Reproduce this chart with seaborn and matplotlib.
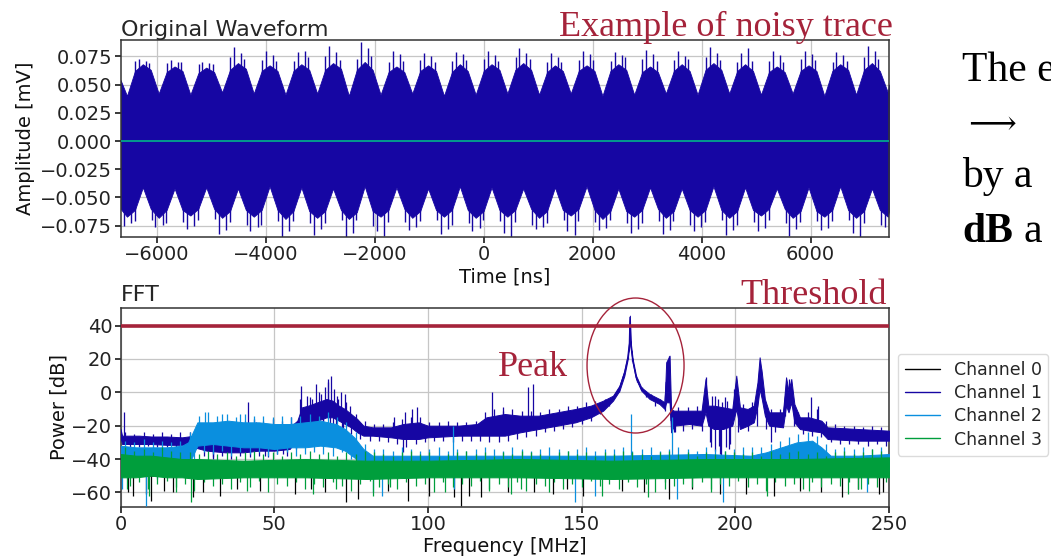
import numpy as np
import pandas as pd
import matplotlib
matplotlib.use("Agg")
import matplotlib.pyplot as plt
import seaborn as sns
from matplotlib.patches import Ellipse
from matplotlib.lines import Line2D

# ------------------------------------------------------------------ data
channels = ["Channel 0", "Channel 1", "Channel 2", "Channel 3"]
ch_colors = ["#000000", "#1606a3", "#0a8fdf", "#009e3c"]

# --- waveform (Channel 1) envelope (time in ns, amplitude in mV)
wave_t = [-6660,
          -6542, -6396, -6251, -6106, -5960, -5814, -5669, -5524,
          -5379, -5233, -5088, -4943, -4797, -4651, -4506, -4361,
          -4216, -4070, -3925, -3780, -3634, -3488, -3343, -3198,
          -3052, -2906, -2761, -2616, -2471, -2325, -2180, -2035,
          -1889, -1743, -1598, -1453, -1308, -1162, -1017, -872,
          -726, -580, -435, -290, -144, 2, 147, 292,
          437, 583, 728, 873, 1019, 1165, 1310, 1455,
          1600, 1746, 1891, 2036, 2182, 2328, 2473, 2618,
          2764, 2910, 3055, 3200, 3345, 3491, 3636, 3781,
          3927, 4073, 4218, 4363, 4508, 4654, 4799, 4944,
          5090, 5236, 5381, 5526, 5672, 5818, 5963, 6108,
          6253, 6399, 6544, 6689, 6835, 6981, 7126, 7271,
          7417, 7440]
wave_top = [0.054,
            0.040, 0.062, 0.068, 0.063, 0.042, 0.061, 0.066, 0.062,
            0.041, 0.060, 0.065, 0.061, 0.043, 0.063, 0.069, 0.064,
            0.042, 0.062, 0.067, 0.062, 0.041, 0.062, 0.068, 0.063,
            0.042, 0.063, 0.069, 0.064, 0.040, 0.063, 0.070, 0.063,
            0.041, 0.061, 0.066, 0.061, 0.042, 0.062, 0.067, 0.062,
            0.040, 0.061, 0.068, 0.062, 0.041, 0.062, 0.068, 0.063,
            0.042, 0.063, 0.069, 0.063, 0.041, 0.061, 0.067, 0.062,
            0.042, 0.062, 0.067, 0.062, 0.040, 0.062, 0.068, 0.063,
            0.041, 0.061, 0.066, 0.061, 0.042, 0.062, 0.068, 0.062,
            0.041, 0.063, 0.069, 0.063, 0.042, 0.062, 0.068, 0.062,
            0.041, 0.061, 0.066, 0.061, 0.042, 0.062, 0.067, 0.062,
            0.040, 0.062, 0.068, 0.063, 0.041, 0.063, 0.069, 0.062,
            0.043, 0.050]
wave_bot = [-0.060,
            -0.067, -0.061, -0.041, -0.060, -0.068, -0.061, -0.042, -0.061,
            -0.066, -0.060, -0.041, -0.060, -0.068, -0.062, -0.042, -0.061,
            -0.067, -0.061, -0.040, -0.061, -0.069, -0.062, -0.041, -0.062,
            -0.068, -0.062, -0.042, -0.061, -0.069, -0.063, -0.040, -0.062,
            -0.067, -0.061, -0.041, -0.060, -0.068, -0.062, -0.042, -0.061,
            -0.067, -0.061, -0.040, -0.061, -0.068, -0.062, -0.041, -0.061,
            -0.067, -0.061, -0.042, -0.060, -0.068, -0.062, -0.041, -0.061,
            -0.066, -0.060, -0.040, -0.061, -0.069, -0.062, -0.042, -0.062,
            -0.067, -0.061, -0.041, -0.060, -0.068, -0.062, -0.042, -0.061,
            -0.067, -0.061, -0.040, -0.061, -0.068, -0.062, -0.041, -0.061,
            -0.066, -0.060, -0.042, -0.060, -0.068, -0.062, -0.041, -0.062,
            -0.067, -0.061, -0.040, -0.061, -0.068, -0.062, -0.042, -0.061,
            -0.067, -0.062]
# spikes on the waveform edges
wave_top_spk_t = [-6321, -6191, -5739, -5609, -5158, -5028, -4576, -4446,
                  -3995, -3865, -3413, -3283, -2831, -2701, -2250, -2120,
                  -1668, -1538, -1087, -957, -505, -375, 77, 207,
                  658, 788, 1240, 1370, 1821, 1951, 2403, 2533,
                  2985, 3115, 3566, 3696, 4148, 4278, 4729, 4859,
                  5311, 5441, 5893, 6023, 6474, 6604, 7056, 7186,
                  -6391, -5809, -5228, -4646, -4065, -3483, -2901, -2320,
                  -1738, -1157, -575, 7, 588, 1170, 1751, 2333,
                  2915, 3496, 4078, 4659, 5241, 5823, 6404, 6986,
                  -6131, -5549, -4968, -4386, -3805, -3223, -2641, -2060,
                  -1478, -897, -315, 267, 848, 1430, 2011, 2593,
                  3175, 3756, 4338, 4919, 5501, 6083, 6664, 7246]
wave_top_spk_v = [0.073, 0.071, 0.072, 0.070, 0.070, 0.069, 0.083, 0.078,
                  0.080, 0.076, 0.079, 0.080, 0.084, 0.079, 0.088, 0.082,
                  0.080, 0.077, 0.078, 0.075, 0.079, 0.077, 0.080, 0.076,
                  0.082, 0.078, 0.078, 0.074, 0.080, 0.077, 0.079, 0.076,
                  0.081, 0.077, 0.080, 0.075, 0.083, 0.078, 0.078, 0.082,
                  0.080, 0.076, 0.080, 0.077, 0.079, 0.076, 0.084, 0.080,
                  0.071, 0.069, 0.068, 0.074, 0.072, 0.071, 0.075, 0.073,
                  0.070, 0.072, 0.071, 0.073, 0.074, 0.070, 0.072, 0.071,
                  0.073, 0.072, 0.074, 0.070, 0.071, 0.073, 0.070, 0.074,
                  0.069, 0.070, 0.068, 0.073, 0.071, 0.074, 0.072, 0.075,
                  0.071, 0.070, 0.072, 0.071, 0.073, 0.070, 0.072, 0.074,
                  0.071, 0.073, 0.072, 0.071, 0.070, 0.072, 0.071, 0.073]
wave_bot_spk_t = [-6602, -6472, -6020, -5890, -5439, -5309, -4857, -4727,
                  -4276, -4146, -3694, -3564, -3112, -2982, -2531, -2401,
                  -1949, -1819, -1368, -1238, -786, -656, -204, -74,
                  377, 507, 959, 1089, 1540, 1670, 2122, 2252,
                  2704, 2834, 3285, 3415, 3867, 3997, 4448, 4578,
                  5030, 5160, 5612, 5742, 6193, 6323, 6775, 6905, 7357,
                  -6090, -5509, -4927, -4346, -3764, -3182, -2601, -2019,
                  -1438, -856, -274, 307, 889, 1470, 2052, 2634,
                  3215, 3797, 4378, 4960, 5542, 6123, 6705, 7287,
                  -6402, -5820, -5239, -4657, -4076, -3494, -2912, -2331,
                  -1749, -1168, -586, -4, 577, 1159, 1740, 2322,
                  2904, 3485, 4067, 4648, 5230, 5812, 6393, 6975]
wave_bot_spk_v = [-0.075, -0.073, -0.076, -0.074, -0.078, -0.075, -0.082, -0.079,
                  -0.080, -0.076, -0.086, -0.080, -0.083, -0.078, -0.085, -0.081,
                  -0.080, -0.084, -0.079, -0.076, -0.082, -0.078, -0.080, -0.077,
                  -0.081, -0.085, -0.078, -0.076, -0.080, -0.083, -0.079, -0.077,
                  -0.081, -0.078, -0.082, -0.079, -0.080, -0.076, -0.083, -0.079,
                  -0.080, -0.077, -0.084, -0.078, -0.079, -0.077, -0.081, -0.085, -0.076,
                  -0.070, -0.072, -0.069, -0.074, -0.071, -0.073, -0.070, -0.075,
                  -0.072, -0.070, -0.073, -0.071, -0.074, -0.070, -0.072, -0.073,
                  -0.071, -0.074, -0.070, -0.072, -0.073, -0.071, -0.070, -0.074,
                  -0.071, -0.073, -0.070, -0.072, -0.074, -0.071, -0.073, -0.070,
                  -0.072, -0.071, -0.074, -0.070, -0.072, -0.073, -0.071, -0.070,
                  -0.073, -0.071, -0.072, -0.074, -0.070, -0.072, -0.071, -0.073]
# other channels are almost flat in time domain
wave_other_amp = [0.0008, 0.0012, 0.0008]   # channel 0, 2, 3

# --- FFT (frequency MHz, power dB): noise-band limits per channel
ch0_f = [0, 10, 20, 30, 50, 80, 120, 160, 200, 250]
ch0_lo = [-50, -50, -50, -50, -50, -50, -50, -50, -50, -50]
ch0_hi = [-41, -41, -41, -42, -41, -42, -41, -42, -41, -41]
ch0_spk_f = [2.5, 4.1, 8.4, 9.9, 14.0, 17.2, 23.5, 26.8, 32.2, 38.0, 45.3, 56.6,
             62.0, 66.4, 73.4, 77.2, 87.0, 93.5, 100.5, 108.6, 110.8, 113.5, 117.3,
             126.0, 134.4, 140.6, 145.2, 150.3, 163.0, 170.2, 178.3, 186.0, 195.0,
             203.4, 212.6, 221.0, 228.0, 234.8, 240.0, 246.8, 248.0]
ch0_spk_v = [-60, -62, -61, -65, -59, -60, -63, -60, -62, -58, -59, -61,
             -58, -60, -66, -64, -59, -65, -62, -63, -68, -62, -63,
             -60, -60, -61, -58, -62, -59, -60, -64, -58, -61,
             -61, -62, -59, -60, -63, -58, -61, -60]

ch1_f = [0, 0.5, 2, 6, 10, 15, 20, 24, 28, 34, 40, 45, 50, 55, 57.5, 59, 61, 64,
         67, 69, 71, 73, 75, 77, 79, 82, 88, 92, 97, 100, 110, 116, 119, 125, 130,
         136, 142, 148, 153, 157, 160.2, 162.3, 163.9, 165.0, 165.5, 165.7, 165.9,
         166.6, 167.7, 169.4, 172.1, 175.3, 177.0, 177.5, 178.6, 179.1, 180, 185,
         189, 190.3, 191.2, 193, 196, 199, 200.3, 201.5, 204, 206, 207.2, 207.9,
         208.6, 209.6, 211, 215.5, 216.5, 217.3, 218.2, 219.2, 221, 224, 228, 230,
         240, 250]
ch1_lo = [-27, -31, -31, -31, -31, -31.5, -31.5, -33, -35, -36, -36, -35, -35, -34,
          -28, -20, -18, -17, -15, -15, -17, -19, -21, -24, -26, -26, -27, -28, -28,
          -27, -26, -26, -26, -26, -24, -22, -20, -18, -15, -11, -5, 1, 10, 20, 28,
          44, 28, 18, 8, 1, -4, -7, -10, -6, -6, -24, -20, -19, -20, -12, -20, -22,
          -22, -20, -10, -22, -20, -18, -8, 2, -4, -14, -20, -21, -8, -12, -6, -18,
          -22, -23, -24, -28, -29, -29]
ch1_hi = [-22, -26, -26, -26, -26.5, -26.5, -27, -26, -24, -22, -21, -20, -21, -21,
          -17, -9, -8, -6, -4, -5, -8, -10, -13, -16, -20, -21, -21, -19, -18, -20,
          -20, -19, -15, -13, -14, -14, -12, -10, -8, -5, -2, 4, 13, 22, 31, 46, 31,
          20, 10, 3, -1, -4, -6, 18, 22, -10, -11, -11, -11, 8, -8, -8, -9, -10, 10,
          -9, -10, -8, 6, 21, 12, -4, -12, -12, 9, 1, 8, -7, -15, -15, -17, -21,
          -22, -23]
ch1_spk_f = [1.0, 41.5, 44.0, 58.8, 60.5, 62.3, 63.7, 65.2, 66.6, 67.6, 68.6, 69.6,
             70.6, 71.6, 73.1, 74.5, 88.8, 92.6, 94.8, 96.5, 120.7, 124.5, 132.6,
             134.1, 192.5, 194.2, 195.8, 197.4, 224.7, 226.9]
ch1_spk_v = [-12, -6, -18, 4, -2, -4, 5, -1, 3, 8, 10, 2, -4, 0, -1, -8, -15, -12,
             -10, -9, 0, -9, 3, 5, -2, -4, -6, -5, -3, -8]
ch1_dip_f = [30.0, 47.0, 53.0, 59.7, 62.8, 65.8, 68.1, 70.1, 72.4, 92.0, 180.5,
             191.8, 193.5, 194.6, 195.2, 197.0, 198.3, 211.5]
ch1_dip_v = [-40, -38, -37, -26, -24, -22, -21, -23, -24, -36, -24,
             -30, -35, -32, -38, -33, -31, -30]

ch2_f = [0, 5, 10, 15, 20, 22, 23.5, 25, 30, 35, 40, 45, 50, 55, 60, 65, 70, 73,
         76, 79, 82, 100, 130, 160, 190, 205, 210, 215, 220, 225, 228, 231, 240, 250]
ch2_lo = [-46, -47, -47, -47, -46, -44, -38, -32, -31, -32, -33, -33, -34, -33, -33,
          -32, -33, -35, -39, -44, -47, -47, -47, -47, -47, -47, -46, -44, -41, -41,
          -44, -47, -47, -47]
ch2_hi = [-32, -33, -33, -33, -32, -30, -24, -18, -18, -17, -18, -18, -19, -19, -18,
          -17, -19, -22, -27, -34, -38, -38, -38, -38, -37, -38, -36, -33, -30, -29,
          -33, -38, -38, -37]
ch2_spk_f = [27.5, 33.0, 39.0, 108.0, 166.0, 179.5]
ch2_spk_v = [-12, -13, -13, -20, -13, -15]
ch2_dip_f = [0.4, 8.4, 82.0, 85.0, 108.5, 148.0, 154.3, 181.0, 196.0, 242.8]
ch2_dip_v = [-58, -68, -60, -62, -58, -66, -62, -64, -66, -60]

ch3_f = [0, 5, 10, 15, 20, 25, 40, 60, 80, 100, 130, 160, 190, 220, 250]
ch3_lo = [-51, -51, -50, -51, -51, -52, -51, -51, -52, -51, -51, -52, -51, -51, -51]
ch3_hi = [-37, -38, -38, -39, -40, -40, -41, -40, -41, -41, -40, -41, -40, -40, -39]
ch3_dip_f = [2.2, 9.4, 18.1, 23.0, 41.0, 62.6, 70.2, 82.1, 87.5, 105.4, 120.0,
             127.0, 130.4, 139.5, 156.6, 171.5, 177.2, 192.0, 210.3, 224.0, 236.5, 241.0]
ch3_dip_v = [-58, -62, -60, -66, -59, -61, -58, -62, -57, -60, -59, -61, -58, -60,
             -62, -63, -58, -60, -62, -59, -61, -58]

# fine noise: upper excursions at grid_up, lower at grid_dn
grid_up = [1.5, 4.5, 7.5, 10.5, 13.5, 16.5, 19.5, 22.5, 25.5, 28.5,
           31.5, 34.5, 37.5, 40.5, 43.5, 46.5, 49.5, 52.5, 55.5, 58.5,
           61.5, 64.5, 67.5, 70.5, 73.5, 76.5, 79.5, 82.5, 85.5, 88.5,
           91.5, 94.5, 97.5, 100.5, 103.5, 106.5, 109.5, 112.5, 115.5, 118.5,
           121.5, 124.5, 127.5, 130.5, 133.5, 136.5, 139.5, 142.5, 145.5, 148.5,
           151.5, 154.5, 157.5, 160.5, 163.5, 166.5, 169.5, 172.5, 175.5, 178.5,
           181.5, 184.5, 187.5, 190.5, 193.5, 196.5, 199.5, 202.5, 205.5, 208.5,
           211.5, 214.5, 217.5, 220.5, 223.5, 226.5, 229.5, 232.5, 235.5, 238.5,
           241.5, 244.5, 247.5]
grid_dn = [3, 6, 9, 12, 15, 18, 21, 24, 27, 30,
           33, 36, 39, 42, 45, 48, 51, 54, 57, 60,
           63, 66, 69, 72, 75, 78, 81, 84, 87, 90,
           93, 96, 99, 102, 105, 108, 111, 114, 117, 120,
           123, 126, 129, 132, 135, 138, 141, 144, 147, 150,
           153, 156, 159, 162, 165, 168, 171, 174, 177, 180,
           183, 186, 189, 192, 195, 198, 201, 204, 207, 210,
           213, 216, 219, 222, 225, 228, 231, 234, 237, 240,
           243, 246, 249]
ch1_up = [-24, -25, -24, -25, -24, -25, -24, -24, -22, -20,
          -19, -18, -19, -17, -16, -17, -16, -17, -15, -4,
          -3, 0, 6, -2, -6, -13, -17, -19, -19, -18,
          -16, -15, -15, -18, -18, -17, -18, -18, -17, -12,
          -10, -11, -10, -11, -11, -12, -10, -10, -8, -8,
          -6, -5, -4, -2, 10, 19, 3, -1, -4, 22,
          -9, -9, -8, 9, -2, -3, 2, -7, -6, 14,
          -10, -10, 8, -12, -12, -10, -17, -19, -20, -20,
          -21, -20, -21]
ch1_dn = [-33, -33, -32, -33, -33, -33, -33, -36, -38, -39,
          -38, -40, -38, -39, -38, -39, -37, -38, -34, -25,
          -23, -22, -21, -23, -25, -28, -29, -29, -30, -31,
          -33, -31, -30, -29, -29, -30, -29, -29, -29, -30,
          -30, -29, -28, -27, -26, -24, -23, -22, -21, -19,
          -17, -13, -8, 0, 20, 6, -3, -8, -11, -24,
          -23, -22, -23, -33, -37, -34, -24, -23, -20, -22,
          -24, -14, -20, -25, -26, -27, -30, -31, -31, -31,
          -32, -31, -32]
ch2_up = [-29, -30, -28, -30, -29, -30, -29, -24, -14, -12,
          -14, -13, -15, -13, -14, -14, -15, -14, -15, -14,
          -13, -14, -12, -15, -18, -24, -31, -34, -34, -35,
          -33, -34, -35, -34, -33, -35, -34, -35, -34, -33,
          -34, -35, -33, -34, -35, -34, -33, -34, -35, -34,
          -33, -35, -34, -34, -33, -35, -34, -33, -35, -34,
          -33, -34, -35, -33, -34, -35, -34, -33, -33, -33,
          -31, -29, -27, -25, -24, -26, -31, -34, -33, -34,
          -33, -34, -33]
ch2_dn = [-49, -51, -50, -52, -49, -50, -51, -40, -36, -37,
          -35, -38, -36, -37, -36, -38, -37, -36, -38, -37,
          -36, -37, -38, -36, -40, -45]
ch3_up = [-33, -35, -34, -36, -33, -35, -36,
          -36, -37, -35, -37, -36, -38, -36, -35, -37, -36,
          -38, -36, -37, -35, -37, -36, -38, -36, -37, -35,
          -36, -37, -38, -36, -35, -37, -36, -38, -37, -36,
          -35, -37, -36, -38, -36, -37, -35, -36, -37, -38,
          -36, -35, -37, -36, -38, -36, -37, -35, -36, -37,
          -38, -36, -35, -37, -36, -38, -36, -37, -35, -36,
          -37, -36, -38, -35, -37, -36, -35, -37, -36, -38,
          -36, -35, -37, -36, -34, -35]
ch3_dn = [-56, -54, -58, -55, -53, -57, -55, -59, -54, -56,
          -55, -58, -54, -57, -53, -60, -55, -56, -54, -58,
          -55, -57, -54, -56, -59, -55, -53, -57, -55, -58,
          -54, -56, -55, -60, -54, -57, -55, -56, -53, -58,
          -55, -57, -54, -59, -55, -56, -54, -58, -55, -57,
          -53, -56, -55, -58, -54, -57, -55, -60, -54, -56,
          -55, -57, -54, -58, -55, -56, -53, -57, -55, -59,
          -54, -56, -55, -58, -54, -57, -55, -56, -54, -58,
          -55, -57, -54]

thr_f = [0, 250]
thr_v = [40, 40]

time_ticks = [-6000, -4000, -2000, 0, 2000, 4000, 6000]
amp_ticks = [-0.075, -0.050, -0.025, 0.000, 0.025, 0.050, 0.075]
freq_ticks = [0, 50, 100, 150, 200, 250]
pow_ticks = [-60, -40, -20, 0, 20, 40]

# ------------------------------------------------------------------ style
sns.set_theme(style="whitegrid", rc={
    "axes.edgecolor": "#333333", "axes.linewidth": 1.1,
    "grid.color": "#c6c6c6", "grid.linewidth": 0.9,
    "xtick.bottom": True, "ytick.left": True,
    "xtick.major.size": 4, "ytick.major.size": 4,
    "xtick.color": "#222222", "ytick.color": "#222222",
    "axes.labelcolor": "#111111",
})
plt.rcParams["font.family"] = ["DejaVu Sans"]

RED = "#a5233a"
SERIF = ["Liberation Serif", "DejaVu Serif"]

fig = plt.figure(figsize=(10.51, 5.56), dpi=100)
ax1 = fig.add_axes([0.1147, 0.5737, 0.7312, 0.3543])
ax2 = fig.add_axes([0.1147, 0.0887, 0.7312, 0.3568])

# ------------------------------------------------------------------ waveform
ax1.fill_between(wave_t, wave_bot, wave_top, color=ch_colors[1], lw=0.6, zorder=2)
ax1.vlines(wave_top_spk_t, 0, wave_top_spk_v, color=ch_colors[1], lw=1.0, zorder=2)
ax1.vlines(wave_bot_spk_t, 0, wave_bot_spk_v, color=ch_colors[1], lw=1.0, zorder=2)
t_span = [wave_t[0], wave_t[-1]]
for amp, col, al in zip(wave_other_amp, [ch_colors[0], ch_colors[2], ch_colors[3]],
                        [0.25, 1.0, 0.5]):
    ax1.fill_between(t_span, [-amp, -amp], [amp, amp], color=col, alpha=al,
                     lw=0, zorder=3)
ax1.set_xlim(-6660, 7440)
ax1.set_ylim(-0.0850, 0.0894)
ax1.set_xticks(time_ticks)
ax1.set_yticks(amp_ticks)
ax1.set_xlabel("Time [ns]", fontsize=14, labelpad=2)
ax1.set_ylabel("Amplitude [mV]", fontsize=14, labelpad=4)
ax1.set_title("Original Waveform", loc="left", fontsize=16, pad=1.5)
ax1.tick_params(labelsize=14, pad=2)

# ------------------------------------------------------------------ FFT
def band(ax, f, lo, hi, col, z):
    ax.fill_between(f, lo, hi, color=col, lw=0.7, zorder=z)

def spikes(ax, f_band, lo_band, hi_band, sf, sv, col, z):
    base = np.interp(sf, f_band, np.add(lo_band, hi_band) / 2.0)
    ax.vlines(sf, base, sv, color=col, lw=0.9, zorder=z)

band(ax2, ch0_f, ch0_lo, ch0_hi, ch_colors[0], 2)
spikes(ax2, ch0_f, ch0_lo, ch0_hi, ch0_spk_f, ch0_spk_v, ch_colors[0], 2)

band(ax2, ch1_f, ch1_lo, ch1_hi, ch_colors[1], 3)
sns.lineplot(x=ch1_f, y=np.add(ch1_lo, ch1_hi) / 2.0, ax=ax2, color=ch_colors[1],
             lw=0.8, zorder=3, legend=False)
spikes(ax2, ch1_f, ch1_lo, ch1_hi, grid_up, ch1_up, ch_colors[1], 3)
spikes(ax2, ch1_f, ch1_lo, ch1_hi, grid_dn, ch1_dn, ch_colors[1], 3)
spikes(ax2, ch1_f, ch1_lo, ch1_hi, ch1_spk_f, ch1_spk_v, ch_colors[1], 3)
spikes(ax2, ch1_f, ch1_lo, ch1_hi, ch1_dip_f, ch1_dip_v, ch_colors[1], 3)

band(ax2, ch2_f, ch2_lo, ch2_hi, ch_colors[2], 4)
spikes(ax2, ch2_f, ch2_lo, ch2_hi, grid_up, ch2_up, ch_colors[2], 4)
spikes(ax2, ch2_f, ch2_lo, ch2_hi, grid_dn[:len(ch2_dn)], ch2_dn, ch_colors[2], 4)
spikes(ax2, ch2_f, ch2_lo, ch2_hi, ch2_spk_f, ch2_spk_v, ch_colors[2], 4)
spikes(ax2, ch2_f, ch2_lo, ch2_hi, ch2_dip_f, ch2_dip_v, ch_colors[2], 4)

band(ax2, ch3_f, ch3_lo, ch3_hi, ch_colors[3], 5)
spikes(ax2, ch3_f, ch3_lo, ch3_hi, grid_up, ch3_up, ch_colors[3], 5)
spikes(ax2, ch3_f, ch3_lo, ch3_hi, grid_dn, ch3_dn, ch_colors[3], 5)
spikes(ax2, ch3_f, ch3_lo, ch3_hi, ch3_dip_f, ch3_dip_v, ch_colors[3], 5)

sns.lineplot(x=thr_f, y=thr_v, ax=ax2, color=RED, lw=2.6, zorder=6, legend=False)

ax2.set_xlim(0, 250)
ax2.set_ylim(-68.6, 50.4)
ax2.set_xticks(freq_ticks)
ax2.set_yticks(pow_ticks)
ax2.set_xlabel("Frequency [MHz]", fontsize=14, labelpad=2)
ax2.set_ylabel("Power [dB]", fontsize=14, labelpad=2)
ax2.set_title("FFT", loc="left", fontsize=16, pad=5)
ax2.tick_params(labelsize=14, pad=2)

handles = [Line2D([0], [0], color=c, lw=1.0) for c in ch_colors]
fig.legend(handles, channels, loc="upper left", bbox_to_anchor=(0.8544, 0.3633),
           fontsize=12.5, frameon=True, fancybox=True, framealpha=0.9,
           edgecolor="#d8d8d8", borderaxespad=0, labelspacing=0.3)

# ------------------------------------------------------------------ slide annotations
fig.text(0.8497, 0.9353, "Example of noisy trace", ha="right", va="baseline",
         fontsize=26, color=RED, family=SERIF)
fig.text(0.8440, 0.4532, "Threshold", ha="right", va="baseline",
         fontsize=26, color=RED, family=SERIF)
fig.text(0.4738, 0.3237, "Peak", ha="left", va="baseline",
         fontsize=26, color=RED, family=SERIF)
fig.add_artist(Ellipse((0.6047, 0.3426), 0.0923, 0.2428, transform=fig.transFigure,
                       fill=False, edgecolor=RED, lw=1.0, clip_on=False))

fig.text(0.9153, 0.8543, "The e", ha="left", va="baseline", fontsize=30,
         color="black", family=SERIF)
fig.text(0.9153, 0.7788, r"$\longrightarrow$", ha="left", va="center", fontsize=24,
         color="black", math_fontfamily="dejavuserif")
fig.text(0.9153, 0.6637, "by a", ha="left", va="baseline", fontsize=30,
         color="black", family=SERIF)
fig.text(0.9153, 0.5650, "dB", ha="left", va="baseline", fontsize=30,
         color="black", family=SERIF, weight="bold")
fig.text(0.9735, 0.5650, "a", ha="left", va="baseline", fontsize=30,
         color="black", family=SERIF)

fig.savefig("out.png", dpi=100)
